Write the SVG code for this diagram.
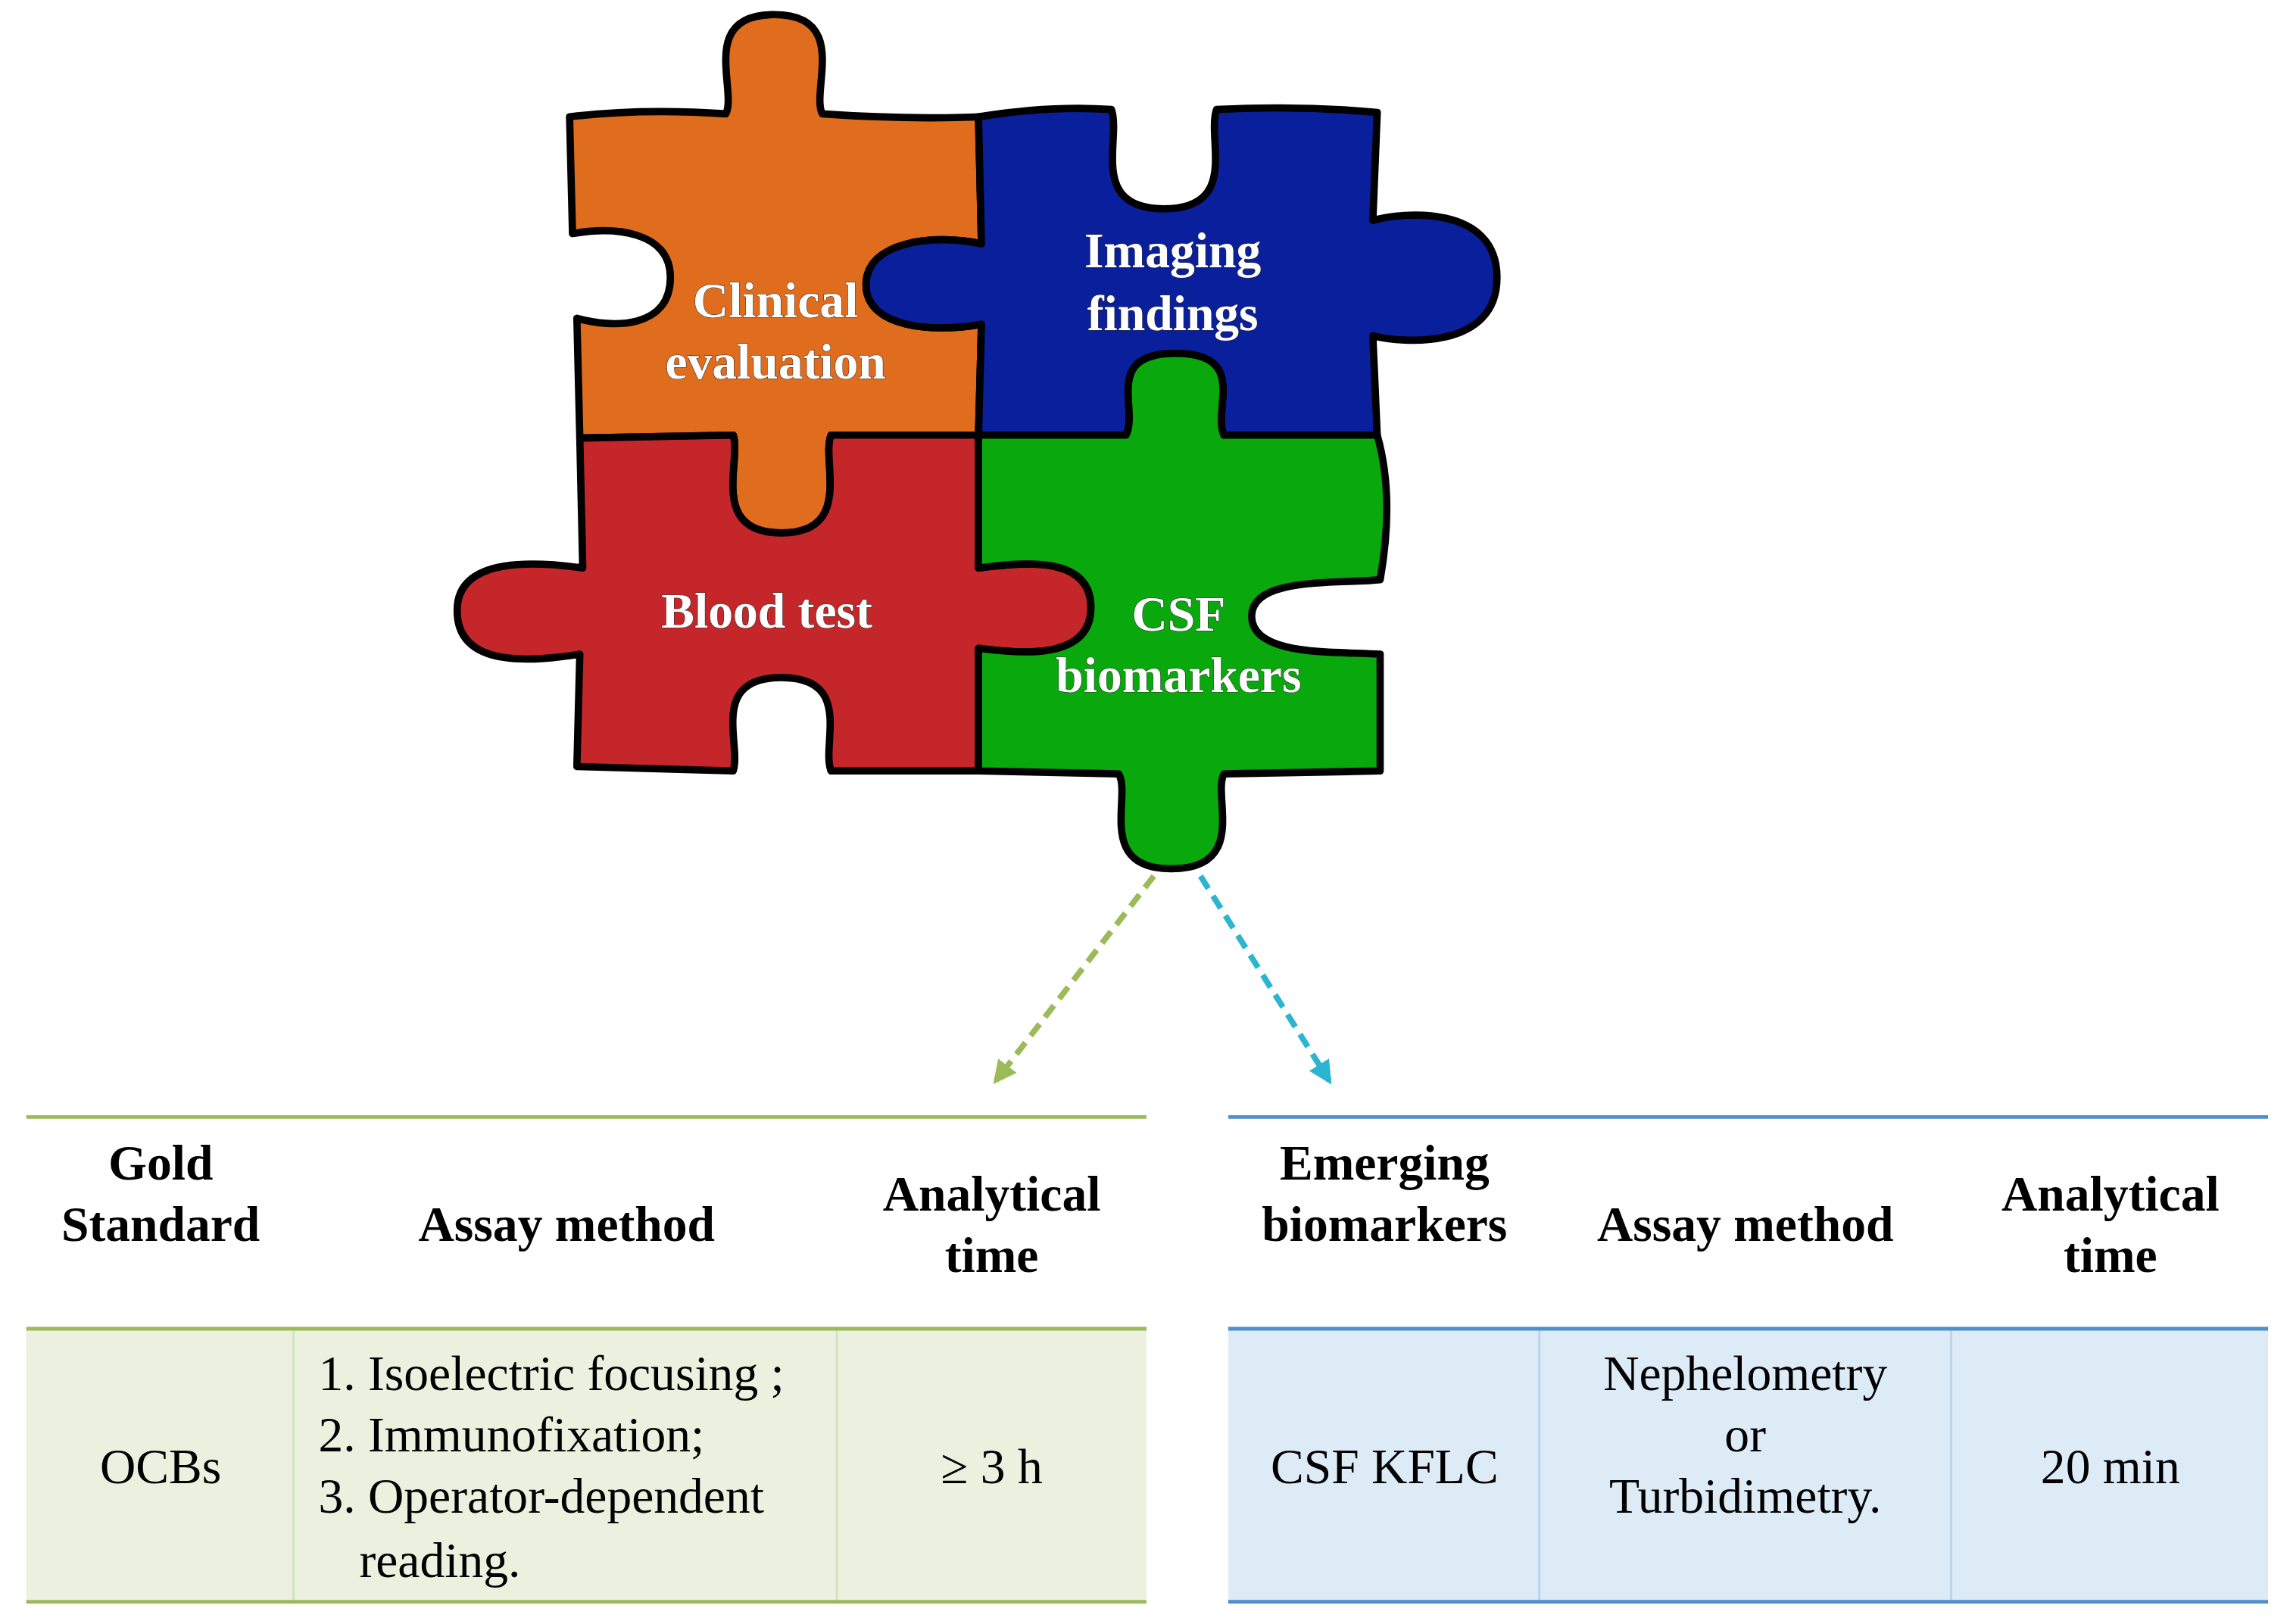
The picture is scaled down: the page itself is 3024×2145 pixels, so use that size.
<svg xmlns="http://www.w3.org/2000/svg" width="3024" height="2145" viewBox="0 0 3024 2145">
<defs>
<style>
.pc{stroke:#000;stroke-width:5;stroke-linejoin:round}
text{font-family:'Liberation Serif','Times New Roman',serif}
.pt{font-weight:bold;font-size:34px;fill:#fff;text-anchor:middle;stroke:#333;stroke-width:0.6;paint-order:stroke}
.h{font-weight:bold;font-size:34px;fill:#000;text-anchor:middle}
.b{font-size:34px;fill:#000;text-anchor:middle}
.bl{font-size:34px;fill:#000}
</style>
<marker id="ag" viewBox="0 0 10 10" refX="8" refY="5" markerWidth="4" markerHeight="4" orient="auto"><path d="M0,0L10,5L0,10z" fill="#9BBB59"/></marker>
<marker id="ab" viewBox="0 0 10 10" refX="8" refY="5" markerWidth="4" markerHeight="4" orient="auto"><path d="M0,0L10,5L0,10z" fill="#2BB5D0"/></marker>
</defs>
<rect width="3024" height="2145" fill="#fff"/>
<g transform="scale(1.9286)">
<g id="orange"><path class="pc" fill="#E06C1E" d="M390,80 Q440,74 497,78 C505,62 478,10 530,10 C582,10 555,62 563,78 Q620,82 670,80 L672,167 C640,160 593,165 593,195 C593,225 640,228 672,222 L670,298 L569,298 C562,315 585,365 535,365 C485,365 508,315 502,298 L397,300 L395,218 C420,225 459,225 459,190 C459,158 420,155 392,160 Z"/></g>
<g id="blue"><path class="pc" fill="#0A1F9C" d="M670,80 Q720,72 761,75 C768,95 745,143 797,143 C849,143 826,95 833,75 Q890,72 943,77 L940,151 C960,145 1025,140 1025,190 C1025,240 960,235 940,230 L943,298 L838,298 C830,280 855,242 805,242 C755,242 780,280 771,298 L670,298 L672,222 C640,228 593,225 593,195 C593,165 640,160 672,167 Z"/></g>
<g id="red"><path class="pc" fill="#C4262A" d="M397,300 L502,298 C508,315 485,365 535,365 C585,365 562,315 569,298 L670,298 L670,389 C700,385 747,380 747,416 C747,452 700,448 670,444 L670,528 L569,528 C562,510 585,464 535,464 C485,464 508,510 502,528 L395,525 L397,448 C370,452 313,460 313,418 C313,380 370,385 399,389 Z"/></g>
<g id="green"><path class="pc" fill="#09A80C" d="M670,298 L771,298 C780,280 755,242 805,242 C855,242 830,280 838,298 L943,298 Q955,340 945,397 C915,400 857,395 857,422 C857,450 915,446 945,448 L945,528 L838,530 C830,545 855,595 802,595 C750,595 775,545 766,530 L670,528 L670,444 C700,448 747,452 747,416 C747,380 700,385 670,389 Z"/></g>
<g id="labels">
<text class="pt" x="531" y="217">Clinical</text><text class="pt" x="531" y="259">evaluation</text>
<text class="pt" x="803" y="183">Imaging</text><text class="pt" x="803" y="226">findings</text>
<text class="pt" x="525" y="430">Blood test</text>
<text class="pt" x="807" y="432">CSF</text><text class="pt" x="807" y="474">biomarkers</text>
</g>
<g id="connectors" fill="none" stroke-width="4" stroke-dasharray="10 6">
<line x1="790" y1="600" x2="682" y2="740" stroke="#9BBB59" marker-end="url(#ag)"/>
<line x1="822" y1="600" x2="910" y2="740" stroke="#2BB5D0" marker-end="url(#ab)"/>
</g>
<g id="table-gold">
<rect x="18" y="910" width="767" height="187" fill="#EBF1DE"/>
<line x1="201" y1="910" x2="201" y2="1097" stroke="#D4E2C0" stroke-width="1.5"/>
<line x1="573" y1="910" x2="573" y2="1097" stroke="#D4E2C0" stroke-width="1.5"/>
<line x1="18" y1="765" x2="785" y2="765" stroke="#9BBB59" stroke-width="2.5"/>
<line x1="18" y1="910" x2="785" y2="910" stroke="#9BBB59" stroke-width="2.5"/>
<line x1="18" y1="1097" x2="785" y2="1097" stroke="#9BBB59" stroke-width="2.5"/>
<text class="h" x="110" y="808">Gold</text><text class="h" x="110" y="850">Standard</text>
<text class="h" x="388" y="850">Assay method</text>
<text class="h" x="679" y="829">Analytical</text><text class="h" x="679" y="871">time</text>
<text class="b" x="110" y="1016">OCBs</text>
<text class="bl" x="218" y="952">1. Isoelectric focusing ;</text>
<text class="bl" x="218" y="994">2. Immunofixation;</text>
<text class="bl" x="218" y="1036">3. Operator-dependent</text>
<text class="bl" x="246" y="1080">reading.</text>
<text class="b" x="679" y="1016">≥ 3 h</text>
</g>
<g id="table-emerging">
<rect x="841" y="910" width="712" height="187" fill="#DDEBF7"/>
<line x1="1054" y1="910" x2="1054" y2="1097" stroke="#B8D4EC" stroke-width="1.5"/>
<line x1="1336" y1="910" x2="1336" y2="1097" stroke="#B8D4EC" stroke-width="1.5"/>
<line x1="841" y1="765" x2="1553" y2="765" stroke="#4F8FCC" stroke-width="2.5"/>
<line x1="841" y1="910" x2="1553" y2="910" stroke="#4F8FCC" stroke-width="2.5"/>
<line x1="841" y1="1097" x2="1553" y2="1097" stroke="#4F8FCC" stroke-width="2.5"/>
<text class="h" x="948" y="808">Emerging</text><text class="h" x="948" y="850">biomarkers</text>
<text class="h" x="1195" y="850">Assay method</text>
<text class="h" x="1445" y="829">Analytical</text><text class="h" x="1445" y="871">time</text>
<text class="b" x="948" y="1016">CSF KFLC</text>
<text class="b" x="1195" y="952">Nephelometry</text>
<text class="b" x="1195" y="994">or</text>
<text class="b" x="1195" y="1036">Turbidimetry.</text>
<text class="b" x="1445" y="1016">20 min</text>
</g>
</g>
</svg>
